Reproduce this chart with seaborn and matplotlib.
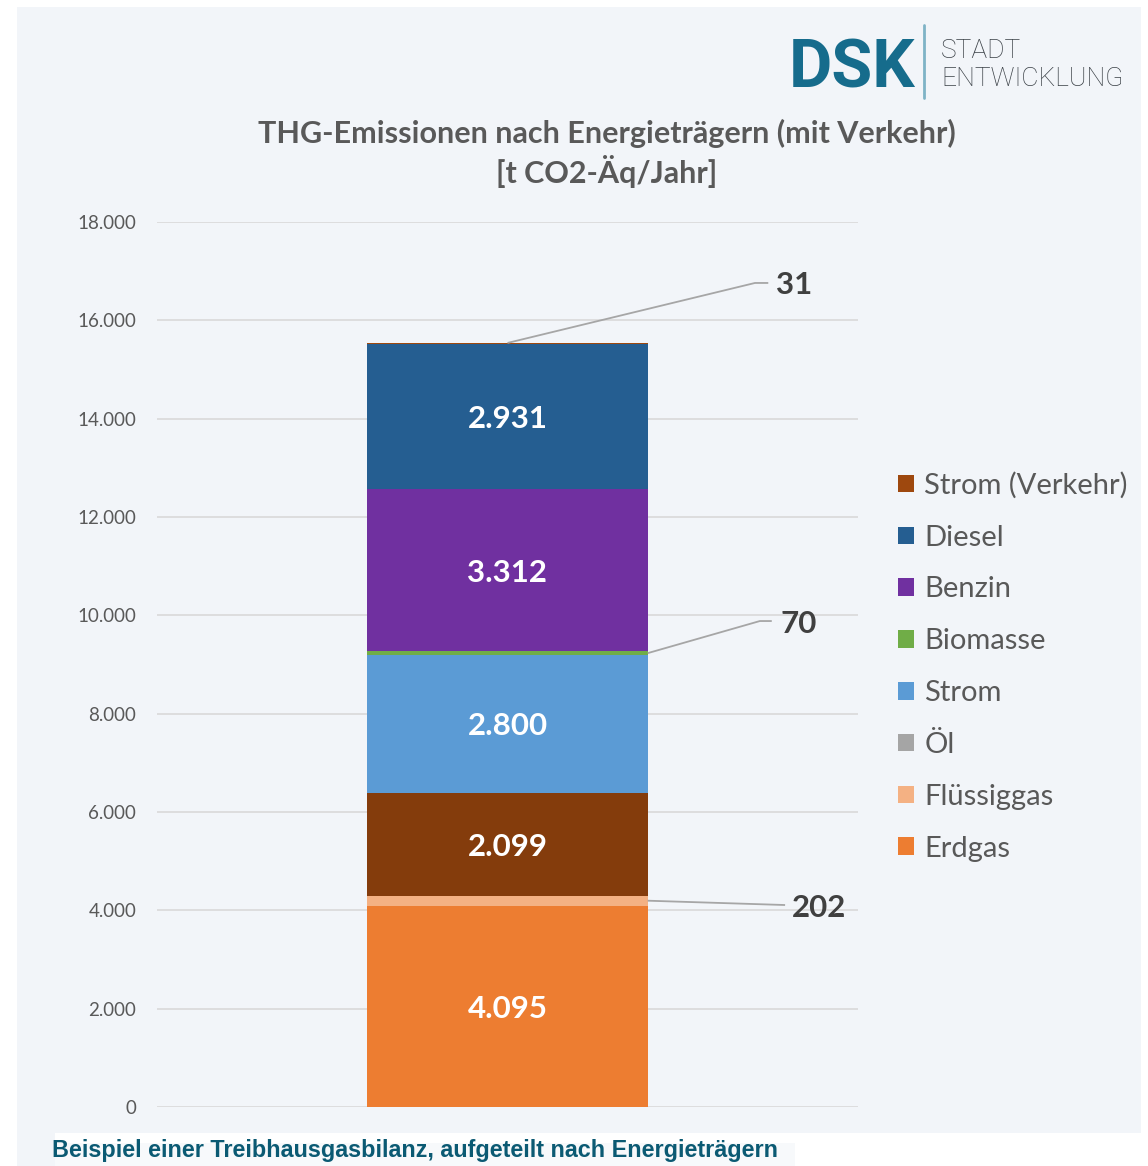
import matplotlib
matplotlib.use("Agg")
import matplotlib.pyplot as plt
from matplotlib.patches import Patch, Rectangle
import numpy as np
import seaborn as sns

# Emission sources, bottom to top of the stack
sources = ["Erdgas", "Flüssiggas", "Öl", "Strom", "Biomasse", "Benzin", "Diesel", "Strom (Verkehr)"]
emissions = [4095, 202, 2099, 2800, 70, 3312, 2931, 31]
segment_colors = ["#ED7D31", "#F4B183", "#843C0C", "#5B9BD5", "#70AD47", "#7030A0", "#255E91", "#9E480E"]
legend_colors = ["#ED7D31", "#F4B183", "#A5A5A5", "#5B9BD5", "#70AD47", "#7030A0", "#255E91", "#9E480E"]
bar_category = "Gesamt"
y_ticks = list(range(0, 18001, 2000))

title_lines = "THG-Emissionen nach Energieträgern (mit Verkehr)\n[t CO2-Äq/Jahr]"
caption = "Beispiel einer Treibhausgasbilanz, aufgeteilt nach Energieträgern"


def de_num(v):
    return f"{v:,}".replace(",", ".")


sns.set_style("white")
plt.rcParams["font.family"] = ["Lato", "DejaVu Sans"]

W, H = 1148, 1166
fig = plt.figure(figsize=(W / 100, H / 100), dpi=100, facecolor="white")


def fig_rect(x0, y0, x1, y1, color):
    fig.patches.append(Rectangle((x0 / W, 1 - y1 / H), (x1 - x0) / W, (y1 - y0) / H,
                                 transform=fig.transFigure, facecolor=color,
                                 edgecolor="none", zorder=-10))


# Background panels
fig_rect(17, 7, 1141, 1133, "#F2F5F9")
fig_rect(17, 1133, 55, 1166, "#F2F5F9")
fig_rect(55, 1143, 795, 1166, "#F7F9FB")

ax = fig.add_axes([157 / W, 1 - 1107 / H, (858 - 157) / W, (1107 - 222) / H])
ax.set_facecolor("none")

# Stacked bar: draw cumulative totals from the top down so lower segments overlay
tops = np.cumsum(emissions)
bottoms = tops - np.array(emissions)
for i in reversed(range(len(sources))):
    sns.barplot(x=[bar_category], y=[tops[i]], color=segment_colors[i], width=0.4,
                saturation=1, errorbar=None, ax=ax, linewidth=0, zorder=3)

ax.set_xlim(-0.5, 0.5)
ax.set_ylim(0, 18000)
ax.set_yticks(y_ticks)
ax.set_yticklabels([de_num(t) for t in y_ticks])
ax.tick_params(axis="y", length=0, pad=15, labelsize=13.5, labelcolor="#595959")
ax.set_xticks([])
ax.set_xlabel("")
ax.set_ylabel("")
ax.yaxis.grid(True, color="#D9D9D9", linewidth=1.2, zorder=0)
ax.set_axisbelow(True)
for s in ax.spines.values():
    s.set_visible(False)

# Values inside the larger segments
for i, v in enumerate(emissions):
    if v >= 1000:
        ax.text(0, bottoms[i] + v / 2, de_num(v), ha="center", va="center_baseline",
                color="white", fontsize=22.5, fontweight="bold", zorder=5)

# Leader-line callouts for the thin segments
callouts = {
    "Strom (Verkehr)": dict(start=(0.0, "top"), elbow=(0.353, 16760), end=0.372, text_x=0.383),
    "Biomasse": dict(start=(0.2, "mid"), elbow=(0.360, 9884), end=0.377, text_x=0.389),
    "Flüssiggas": dict(start=(0.2, "mid"), elbow=(0.396, 4108), end=0.396, text_x=0.406),
}
for name, c in callouts.items():
    i = sources.index(name)
    sx, where = c["start"]
    sy = tops[i] if where == "top" else bottoms[i] + emissions[i] / 2
    ex, ey = c["elbow"]
    ax.plot([sx, ex, c["end"]], [sy, ey, ey], color="#A6A6A6", linewidth=1.3,
            zorder=4, clip_on=False, solid_capstyle="butt")
    ax.text(c["text_x"], ey, de_num(emissions[i]), ha="left", va="center_baseline",
            fontsize=22.5, fontweight="bold", color="#404040", zorder=5, clip_on=False)

# Legend, top entry = top of the stack
handles = [Patch(facecolor=legend_colors[i], edgecolor="none", label=sources[i])
           for i in reversed(range(len(sources)))]
leg = ax.legend(handles=handles, loc="upper left", bbox_to_anchor=(898 / W, 1 - 472 / H),
                bbox_transform=fig.transFigure, frameon=False, fontsize=21,
                handlelength=0.55, handleheight=0.55, handletextpad=0.35,
                labelspacing=0.885, borderpad=0, borderaxespad=0)
for t in leg.get_texts():
    t.set_color("#595959")

# Chart title
fig.text(607 / W, 1 - 153 / H, title_lines, ha="center", va="center", fontsize=22,
         fontweight="bold", color="#595959", linespacing=1.25)

# Logo
fig.text(789 / W, 1 - 88 / H, "DSK", ha="left", va="baseline", fontsize=48,
         fontweight="bold", color="#166C8C", family=["Roboto", "DejaVu Sans"])
fig.lines.append(plt.Line2D([924 / W, 924 / W], [1 - 25 / H, 1 - 98 / H],
                            transform=fig.transFigure, color="#7FB3C6", linewidth=2))
fig.text(941 / W, 1 - 48 / H, "STADT", ha="left", va="center_baseline", fontsize=19,
         fontweight="light", color="#3A4046", family=["Roboto", "DejaVu Sans"])
fig.text(941 / W, 1 - 77 / H, "ENTWICKLUNG", ha="left", va="center_baseline", fontsize=19,
         fontweight="light", color="#3A4046", family=["Roboto", "DejaVu Sans"])

# Caption below the chart
fig.text(52 / W, 1 - 1150 / H, caption, ha="left", va="center", fontsize=16.8,
         fontweight="bold", color="#0B5A73", family=["Liberation Sans", "DejaVu Sans"])

fig.savefig("out.png", dpi=100, facecolor="white")
